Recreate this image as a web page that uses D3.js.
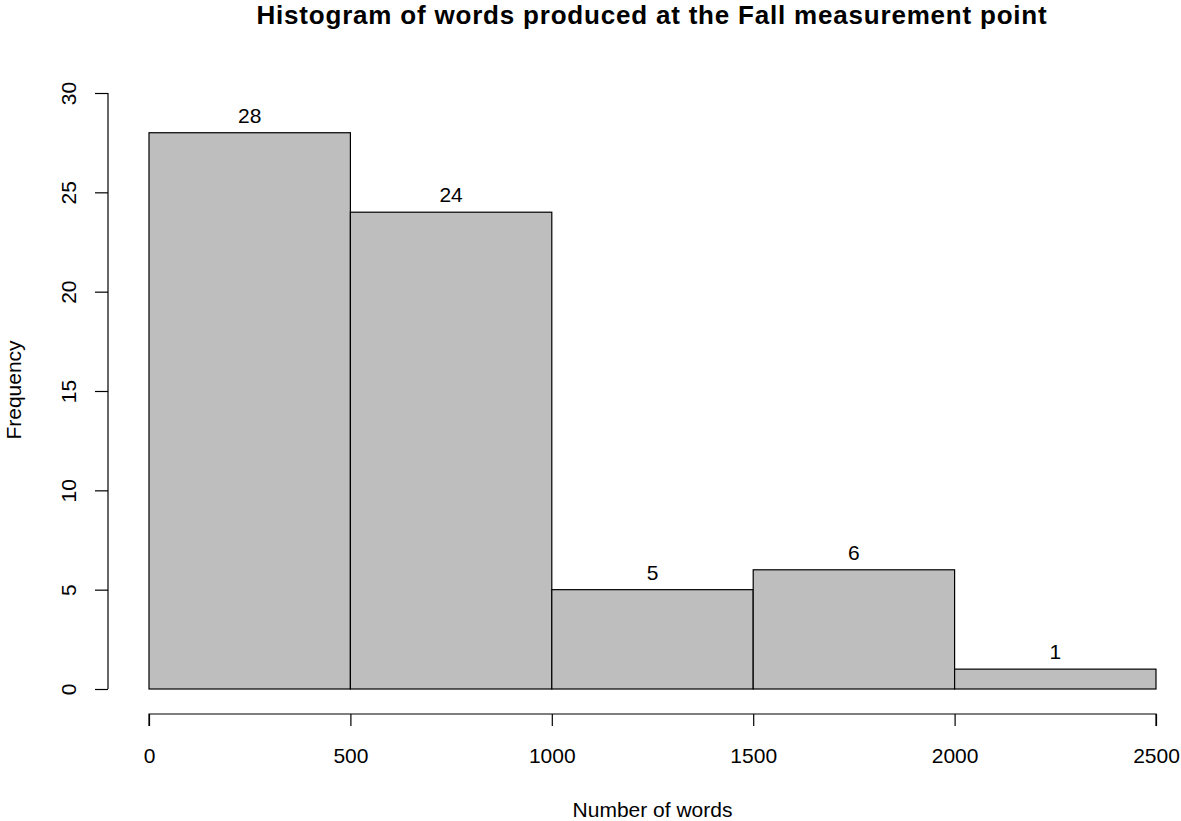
<!DOCTYPE html>
<html><head><meta charset="utf-8">
<script src="https://cdn.jsdelivr.net/npm/d3@7"></script>
<style>body{margin:0;background:#fff}svg{display:block}text{font-family:"Liberation Sans",Arial,sans-serif;fill:#000}</style>
</head><body><svg id="c" width="1181" height="821"></svg>
<script>
const binStarts = [0, 500, 1000, 1500, 2000];
const binWidth = 500;
const counts = [28, 24, 5, 6, 1];
const xTicks = [0, 500, 1000, 1500, 2000, 2500];
const yTicks = [0, 5, 10, 15, 20, 25, 30];
const title = "Histogram of words produced at the Fall measurement point";
const xLabel = "Number of words";
const yLabel = "Frequency";

const FONT = "Liberation Sans, Arial, sans-serif";
const svg = d3.select("#c");
const x = d3.scaleLinear().domain([0, 2500]).range([149, 1156]);
const y = d3.scaleLinear().domain([0, 30]).range([689, 93]);

svg.append("g").selectAll("rect").data(binStarts).join("rect")
  .attr("x", d => x(d)).attr("width", d => x(d + binWidth) - x(d))
  .attr("y", (d, i) => y(counts[i])).attr("height", (d, i) => y(0) - y(counts[i]))
  .attr("fill", "#bebebe").attr("stroke", "#000").attr("stroke-width", 1.2);

svg.append("g").selectAll("text").data(binStarts).join("text")
  .attr("x", d => x(d + binWidth / 2)).attr("y", (d, i) => y(counts[i]) - 10)
  .attr("text-anchor", "middle").attr("font-size", 21).attr("fill", "#222").text((d, i) => counts[i]);

// x axis
const xa = svg.append("g").attr("transform", "translate(0,714)")
  .call(d3.axisBottom(x).tickValues(xTicks).tickSize(12).tickFormat(d3.format("d")));
xa.select(".domain").attr("d", `M${x(0)},12V0H${x(2500)}V12`).attr("stroke-width", 1.2);
xa.selectAll(".tick line").attr("stroke-width", 1.2);
xa.selectAll(".tick text").attr("font-size", 21).attr("font-family", FONT)
  .attr("y", 49).attr("dy", null).attr("fill", "#222");

// y axis
const ya = svg.append("g").attr("transform", "translate(108,0)")
  .call(d3.axisLeft(y).tickValues(yTicks).tickSize(13));
ya.select(".domain").attr("d", `M0,${y(0)}V${y(30)}`).attr("stroke-width", 1.2);
ya.selectAll(".tick line").attr("stroke-width", 1.2);
ya.selectAll(".tick text").attr("font-size", 21).attr("font-family", FONT)
  .attr("x", null).attr("y", null).attr("dy", null).attr("fill", "#222")
  .attr("text-anchor", "middle")
  .attr("transform", "translate(-32,0) rotate(-90)");

svg.append("text").attr("x", 652).attr("y", 24).attr("text-anchor", "middle")
  .attr("font-size", 26).attr("font-weight", "bold").attr("letter-spacing", 0.8).text(title);
svg.append("text").attr("x", x(1250)).attr("y", 817).attr("text-anchor", "middle")
  .attr("font-size", 21).attr("fill", "#222").text(xLabel);
svg.append("text").attr("transform", "translate(21,390) rotate(-90)").attr("text-anchor", "middle")
  .attr("font-size", 21).attr("fill", "#222").text(yLabel);
</script></body></html>
